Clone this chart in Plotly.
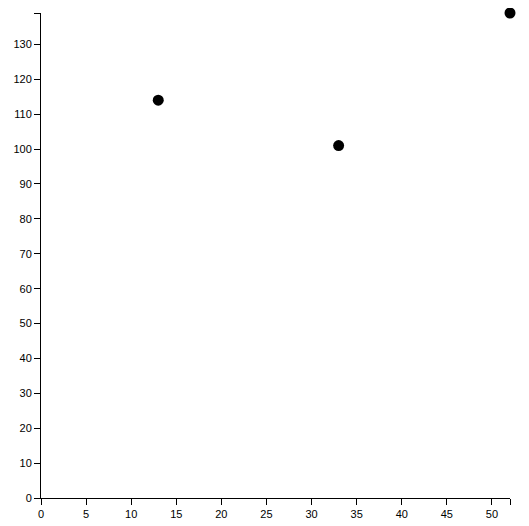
import plotly.graph_objects as go

x_vals = [13, 33, 52]
y_vals = [114, 101, 139]

x_max = max(x_vals)
y_max = max(y_vals)

x_ticks = list(range(0, 51, 5))
y_ticks = list(range(0, 131, 10))

fig = go.Figure()
fig.add_trace(go.Scatter(
    x=x_vals, y=y_vals, mode="markers",
    marker=dict(color="black", size=11),
    cliponaxis=False, showlegend=False,
))

axis_style = dict(
    showline=True, linecolor="black", linewidth=1,
    ticks="outside", ticklen=6, tickcolor="black", tickwidth=1,
    showgrid=False, zeroline=False,
    tickfont=dict(family="Liberation Sans, Arial", size=11, color="black"),
)

# extra unlabelled tick at the domain end, like d3's outer tick
fig.update_xaxes(
    range=[0, x_max],
    tickmode="array",
    tickvals=x_ticks + [x_max],
    ticktext=[str(v) for v in x_ticks] + [""],
    **axis_style,
)
fig.update_yaxes(
    range=[0, y_max],
    tickmode="array",
    tickvals=y_ticks + [y_max],
    ticktext=[str(v) for v in y_ticks] + [""],
    **axis_style,
)

# page body has an 8px margin, so the figure is kept inside the window
fig.update_layout(
    width=521, height=518,
    margin=dict(l=28, r=19, t=5, b=28),
    plot_bgcolor="white", paper_bgcolor="white",
)

fig.write_html("out.html")
